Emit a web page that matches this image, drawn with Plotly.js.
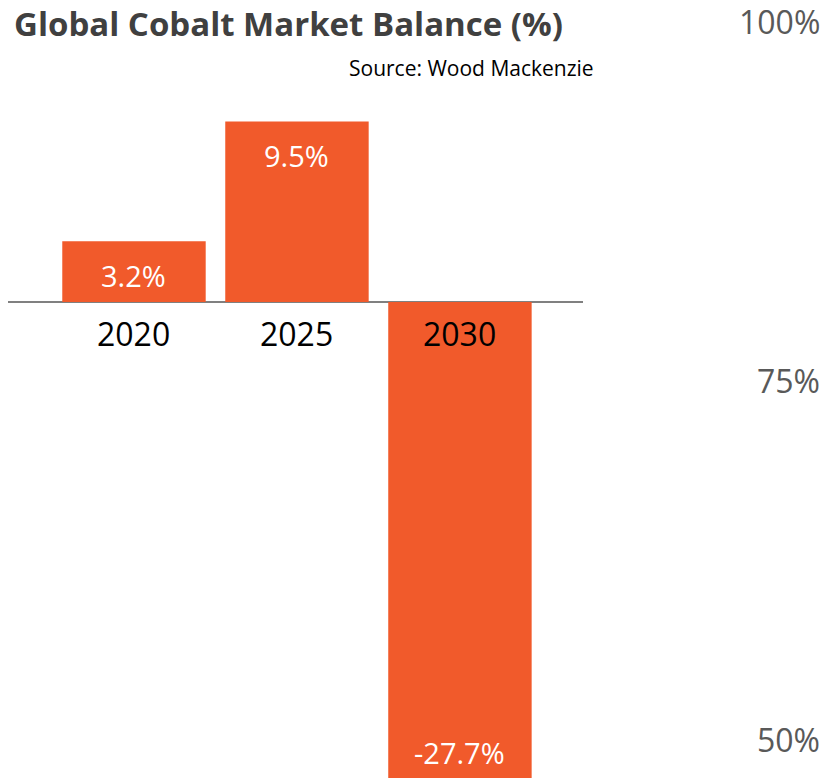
<!DOCTYPE html>
<html>
<head>
<meta charset="utf-8">
<script src="https://cdn.plot.ly/plotly-3.0.1.min.js"></script>
<style>html,body{margin:0;padding:0;background:#fff;}#chart{width:826px;height:778px;}</style>
</head>
<body>
<div id="chart"></div>
<script>
var years = ['2020', '2025', '2030'];
var balance = [3.2, 9.5, -27.7];
var rightTicks = [50, 75, 100];
var titleText = 'Global Cobalt Market Balance (%)';
var sourceText = 'Source: Wood Mackenzie';

var barColor = '#F15A2B';
var fontFam = '"Open Sans", "Noto Sans", sans-serif';
var yRange = [-25.05, 15.9];

var trace = {
  type: 'bar',
  x: years,
  y: balance,
  marker: {color: barColor},
  width: 0.88,
  hoverinfo: 'none'
};
var dummy = {
  type: 'scatter', x: [years[0]], y: [rightTicks[0]], yaxis: 'y2',
  mode: 'markers', marker: {opacity: 0}, hoverinfo: 'none', showlegend: false
};

var annotations = [];
years.forEach(function (yr, i) {
  var v = balance[i];
  annotations.push({
    x: i, y: 0, xref: 'x', yref: 'y', text: yr, showarrow: false,
    yanchor: 'middle', yshift: -31,
    font: {family: fontFam, size: 32, color: '#000'}
  });
  if (v >= 0) {
    annotations.push({
      x: i, y: v, xref: 'x', yref: 'y', text: v.toFixed(1) + '%', showarrow: false,
      yanchor: 'middle', yshift: -34,
      font: {family: fontFam, size: 29, color: '#fff'}
    });
  } else {
    annotations.push({
      x: i, y: Math.max(v, yRange[0]), xref: 'x', yref: 'y', text: v.toFixed(1) + '%', showarrow: false,
      yanchor: 'middle', yshift: 26,
      font: {family: fontFam, size: 29, color: '#fff'}
    });
  }
});
rightTicks.forEach(function (t) {
  annotations.push({
    x: 1, y: t, xref: 'paper', yref: 'y2', text: t + '%', showarrow: false,
    xanchor: 'right', yanchor: 'middle', xshift: -4,
    font: {family: fontFam, size: 32, color: '#595959'}
  });
});
annotations.push({
  x: 0.719, y: 0.9126, xref: 'paper', yref: 'paper', text: sourceText, showarrow: false,
  xanchor: 'right', yanchor: 'middle',
  font: {family: fontFam, size: 21, color: '#000'}
});
annotations.push({
  x: 0.349, y: 0.970, xref: 'paper', yref: 'paper', text: '<b>' + titleText + '</b>', showarrow: false,
  xanchor: 'center', yanchor: 'middle', xshift: -5,
  font: {family: fontFam, size: 33, color: '#404040'}
});

var layout = {
  width: 826, height: 778,
  margin: {l: 8, r: 0, t: 0, b: 0, pad: 0},
  paper_bgcolor: '#fff', plot_bgcolor: 'rgba(0,0,0,0)',
  showlegend: false,
  xaxis: {
    domain: [0, 575 / 818],
    range: [-0.773, 2.755],
    type: 'category',
    showticklabels: false, showgrid: false, zeroline: false, showline: false, ticks: ''
  },
  yaxis: {
    range: yRange,
    showticklabels: false, showgrid: false,
    zeroline: true, zerolinecolor: '#808080', zerolinewidth: 2,
    showline: false, ticks: ''
  },
  yaxis2: {
    overlaying: 'y', anchor: 'free', position: 1, side: 'right',
    range: [47.35, 101.53],
    showticklabels: false,
    showgrid: false, zeroline: false, showline: false, ticks: ''
  },
  annotations: annotations
};

Plotly.newPlot('chart', [trace, dummy], layout, {displayModeBar: false, staticPlot: true});
</script>
</body>
</html>
